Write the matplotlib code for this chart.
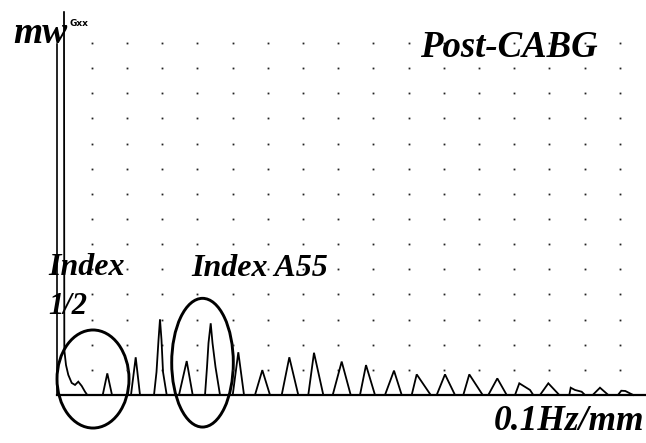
import matplotlib
matplotlib.use("Agg")
import matplotlib.pyplot as plt
from matplotlib.patches import Ellipse
import numpy as np

W, H = 646, 443
DPI = 100

# Frequency axis in grid divisions, amplitude in grid divisions
grid_x = list(range(1, 17))
grid_y = list(range(1, 15))

# DC component and its decay (includes the small first harmonic bump)
dc_freq = [0.213, 0.222, 0.270, 0.335, 0.432, 0.526, 0.619, 0.716, 0.810, 0.875]
dc_amp = [15.23, 1.79, 1.19, 0.80, 0.48, 0.40, 0.53, 0.36, 0.13, 0.0]

# Harmonic peaks: start, apex, end frequency and apex amplitude
peak_lo = [1.313, 2.116, None, 3.480, None, 5.006, 5.639, 6.398, 7.153, 7.847,
           8.622, 9.332, 10.091, 10.801, 11.557, 12.267, 13.736, 15.233]
peak_freq = [1.443, 2.250, None, 3.699, None, 5.165, 5.847, 6.614, 7.315, 8.102,
             8.793, 9.588, 10.233, 11.037, 11.727, 12.523, 13.972, 15.440]
peak_hi = [1.577, 2.372, None, 3.869, None, 5.327, 6.065, 6.869, 7.580, 8.358,
           9.048, 9.807, 10.631, 11.321, 12.108, 12.790, 14.284, 15.676]
peak_amp = [0.86, 1.50, None, 1.35, None, 1.70, 0.99, 1.50, 1.68, 1.33,
            1.19, 0.97, 0.82, 0.82, 0.82, 0.66, 0.465, 0.29]

# Narrow (needle) peaks traced point by point
needle4_freq = [2.770, 2.841, 2.898, 2.940, 2.983, 3.026, 3.131]
needle4_amp = [0.0, 0.915, 2.188, 3.011, 2.188, 0.915, 0.0]
needle6_freq = [4.219, 4.276, 4.318, 4.381, 4.432, 4.517, 4.645]
needle6_amp = [0.0, 1.114, 2.068, 2.852, 2.068, 1.114, 0.0]

# Irregular high-frequency peaks traced point by point
shoulder18_freq = [13.026, 13.148, 13.452, 13.545]
shoulder18_amp = [0.0, 0.465, 0.20, 0.0]
flat20_freq = [14.568, 14.608, 14.730, 14.920, 15.014]
flat20_amp = [0.0, 0.29, 0.20, 0.13, 0.0]
round22_freq = [15.950, 16.045, 16.159, 16.284, 16.386]
round22_amp = [0.0, 0.17, 0.16, 0.07, 0.0]

# assemble the trace in frequency order
segments = [(dc_freq, dc_amp)]
for lo, f, hi, a in zip(peak_lo, peak_freq, peak_hi, peak_amp):
    if lo is not None:
        segments.append(([lo, f, hi], [0.0, a, 0.0]))
segments += [(needle4_freq, needle4_amp), (needle6_freq, needle6_amp),
             (shoulder18_freq, shoulder18_amp), (flat20_freq, flat20_amp),
             (round22_freq, round22_amp)]
segments.sort(key=lambda s: s[0][0])
trace_f = [x for s in segments for x in s[0]]
trace_a = [y for s in segments for y in s[1]]

fig = plt.figure(figsize=(W / DPI, H / DPI), dpi=DPI)
fig.patch.set_facecolor("white")

x0, x1, y_top, y_base = 56.5, 646, 44, 395
ax = fig.add_axes([x0 / W, 1 - y_base / H, (x1 - x0) / W, (y_base - y_top) / H])
ax.set_xlim(0, (x1 - x0) / 35.2)
ax.set_ylim(0, (y_base - y_top) / 25.14)
ax.set_facecolor("white")
for s in ("top", "right"):
    ax.spines[s].set_visible(False)
ax.spines["left"].set_linewidth(1.2)
ax.spines["bottom"].set_linewidth(1.6)
ax.set_xticks([])
ax.set_yticks([])

# dotted grid
gx, gy = np.meshgrid(grid_x, grid_y)
ax.plot(gx.ravel(), gy.ravel(), linestyle="none", marker="s", markersize=1.3,
        color="#222222", markeredgewidth=0, clip_on=False)

ax.plot(trace_f, trace_a, color="black", lw=1.3, clip_on=False,
        solid_joinstyle="miter")

# circled regions
ax.add_patch(Ellipse((1.037, 0.636), 2.045, 3.90, fill=False, lw=2.1,
                     edgecolor="black", clip_on=False))
ax.add_patch(Ellipse((4.148, 1.285), 1.75, 5.12, fill=False, lw=2.1,
                     edgecolor="black", clip_on=False))

serif = dict(family="Liberation Serif", weight="bold", style="italic",
             color="black", va="baseline")


def px(x, y):
    return x / W, 1 - y / H


fig.text(*px(13, 42.7), "mw", fontsize=27, **serif)
fig.text(*px(420, 56.7), "Post-CABG", fontsize=26.5, **serif)
fig.text(*px(48, 275), "Index", fontsize=23, **serif)
fig.text(*px(48, 314), "1/2", fontsize=22, **serif)
fig.text(*px(191, 275.7), "Index A55", fontsize=23, **serif)
fig.text(*px(644, 430), "0.1Hz/mm", fontsize=25.5, ha="right", **serif)
fig.text(*px(69.5, 25.5), "Gxx", fontsize=6.5, family="DejaVu Sans",
         weight="bold", color="black", va="baseline")

fig.savefig("out.png", dpi=DPI, facecolor="white")
